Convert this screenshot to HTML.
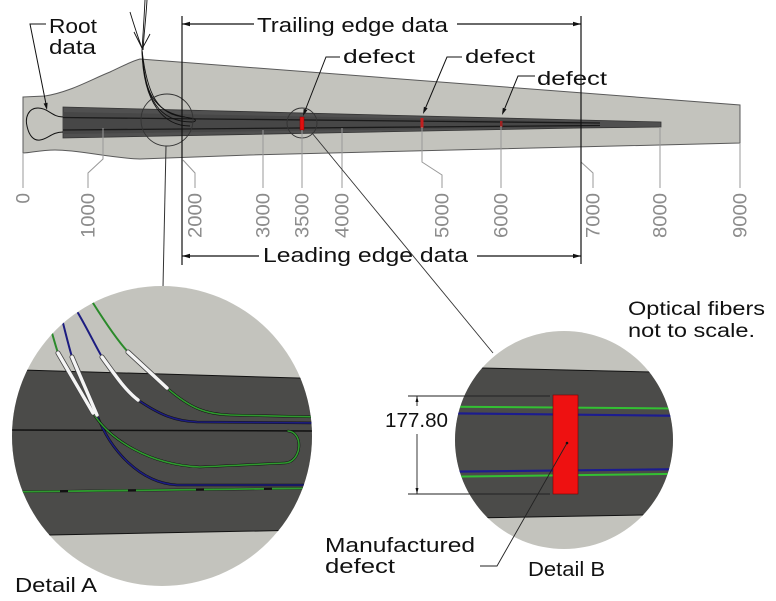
<!DOCTYPE html>
<html><head><meta charset="utf-8"><style>
html,body{margin:0;padding:0;background:#fff;}
svg{display:block;}
text{font-family:"Liberation Sans",sans-serif;}
</style></head><body>
<svg width="776" height="601" viewBox="0 0 776 601" xmlns="http://www.w3.org/2000/svg">
<defs>
<clipPath id="ca"><circle cx="162" cy="436" r="150"/></clipPath>
<clipPath id="cb"><circle cx="564" cy="440" r="109"/></clipPath>
</defs>
<rect width="776" height="601" fill="#fff"/>

<!-- Blade -->
<path d="M23,97 L45,96 C70,92 90,80 110,72 C125,65 132,61 140,59 L740,105 L740,143 L250,155 L140,159 C110,158 80,150 55,150 C40,150 30,153 23,153 Z" fill="#c3c3bd" stroke="#5a5a5a" stroke-width="1"/>
<!-- Spar -->
<path d="M63,107 L581,120 L661,122 L661,127 L581,128 L63,138 Z" fill="#505050" stroke="#333" stroke-width="0.8"/>
<path d="M63,112 L581,121.5 L581,127 L63,134 Z" fill="#474747"/>
<path d="M63,117.5 L600,123" stroke="#1a1a1a" stroke-width="1.3" fill="none"/>
<path d="M63,130 L600,125.5" stroke="#1a1a1a" stroke-width="1.3" fill="none"/>
<!-- Root bulb -->
<path d="M63,117 C52,117 48,108 38,108 C28,108 25,118 27,126 C29,136 34,141 40,140 C48,139 52,132 63,132" fill="none" stroke="#111" stroke-width="1"/>

<!-- Fiber bundle -->
<g fill="none" stroke="#111" stroke-width="0.9">
<path d="M145,0 C144,20 143,35 142,50"/>
<path d="M147,0 C146,18 144,33 143,50"/>
<path d="M130,12 C134,25 139,40 142,48"/>
<path d="M134,32 C137,38 140,44 142,48"/>
<path d="M150,34 C147,40 144,45 142,49"/>
<path d="M142,50 C145,90 150,112 190,118"/>
<path d="M142,50 C147,95 158,115 185,117"/>
<path d="M142,50 C144,100 160,122 192,122 C197,122 197,118 188,118"/>
<path d="M142,50 C143,105 165,126 190,126"/>
</g>
<circle cx="167" cy="120" r="26" fill="none" stroke="#333" stroke-width="0.9"/>
<path d="M166,146 L163,287" stroke="#333" stroke-width="1" fill="none"/>

<!-- Defects -->
<rect x="300" y="117" width="4" height="13" fill="#e01010" stroke="#8a0000" stroke-width="0.5"/>
<rect x="420.5" y="118" width="3" height="10" fill="#c02020"/>
<rect x="500" y="121" width="2.5" height="6" fill="#a02020"/>
<circle cx="302" cy="123" r="15" fill="none" stroke="#333" stroke-width="0.9"/>

<!-- Tick lines -->
<g fill="none" stroke="#999" stroke-width="1">
<path d="M23,153 L23,188"/>
<path d="M103,128 L103,159 L88,173 L88,188"/>
<path d="M183,160 L195,173 L195,188"/>
<path d="M263,130 L263,188"/>
<path d="M302,130 L302,188"/>
<path d="M342,128 L342,188"/>
<path d="M422,127 L422,162 L442,175 L442,188"/>
<path d="M501,126 L501,188"/>
<path d="M581,162 L593,173 L593,188"/>
<path d="M660,127 L660,188"/>
<path d="M740,143 L740,188"/>
</g>
<g fill="#8c8c8c" font-size="19" text-anchor="end">
<text transform="translate(29.5,193) rotate(-90)">0</text>
<text transform="translate(94.5,193) rotate(-90)" textLength="45" lengthAdjust="spacingAndGlyphs">1000</text>
<text transform="translate(201.5,193) rotate(-90)" textLength="45" lengthAdjust="spacingAndGlyphs">2000</text>
<text transform="translate(269.5,193) rotate(-90)" textLength="45" lengthAdjust="spacingAndGlyphs">3000</text>
<text transform="translate(308.5,193) rotate(-90)" textLength="45" lengthAdjust="spacingAndGlyphs">3500</text>
<text transform="translate(348.5,193) rotate(-90)" textLength="45" lengthAdjust="spacingAndGlyphs">4000</text>
<text transform="translate(448.5,193) rotate(-90)" textLength="45" lengthAdjust="spacingAndGlyphs">5000</text>
<text transform="translate(507.5,193) rotate(-90)" textLength="45" lengthAdjust="spacingAndGlyphs">6000</text>
<text transform="translate(599.5,193) rotate(-90)" textLength="45" lengthAdjust="spacingAndGlyphs">7000</text>
<text transform="translate(666.5,193) rotate(-90)" textLength="45" lengthAdjust="spacingAndGlyphs">8000</text>
<text transform="translate(746.5,193) rotate(-90)" textLength="45" lengthAdjust="spacingAndGlyphs">9000</text>
</g>

<!-- Dimension lines -->
<g stroke="#111" stroke-width="1.2" fill="none">
<path d="M182,16 L182,265"/>
<path d="M581,16 L581,264"/>
<path d="M182,24 L254,24"/>
<path d="M457,24 L581,24"/>
<path d="M182,256 L259,256"/>
<path d="M477,256 L581,256"/>
</g>
<g fill="#111">
<polygon points="182,24 190,21.8 190,26.2"/>
<polygon points="581,24 573,21.8 573,26.2"/>
<polygon points="182,256 190,253.8 190,258.2"/>
<polygon points="581,256 573,253.8 573,258.2"/>
</g>
<g fill="#111" font-size="20">
<text x="257" y="32" textLength="191" lengthAdjust="spacingAndGlyphs">Trailing edge data</text>
<text x="263" y="262" textLength="205" lengthAdjust="spacingAndGlyphs">Leading edge data</text>
</g>

<!-- Root data -->
<path d="M46,24 L30,24 L46,104" stroke="#111" stroke-width="1" fill="none"/>
<polygon points="47,110 47.6,102.7 43.6,103.5" fill="#111"/>
<g fill="#111" font-size="20">
<text x="49" y="33" textLength="48" lengthAdjust="spacingAndGlyphs">Root</text>
<text x="49" y="54" textLength="47" lengthAdjust="spacingAndGlyphs">data</text>
</g>

<!-- defect labels -->
<g stroke="#111" stroke-width="1" fill="none">
<path d="M340,57 L326,57 L305.5,109.5"/>
<path d="M462,57 L447,57 L425.7,107.5"/>
<path d="M535,76 L518,76 L504.7,108.5"/>
</g>
<g fill="#111">
<polygon points="303,116 307.4,110.2 303.7,108.8"/>
<polygon points="423,114 427.6,108.3 423.9,106.7"/>
<polygon points="502,115 506.5,109.3 502.8,107.7"/>
</g>
<g fill="#111" font-size="19">
<text x="343" y="63" textLength="72" lengthAdjust="spacingAndGlyphs">defect</text>
<text x="465" y="63" textLength="70" lengthAdjust="spacingAndGlyphs">defect</text>
<text x="537" y="85" textLength="70" lengthAdjust="spacingAndGlyphs">defect</text>
</g>

<!-- Leader to detail B -->
<path d="M312,133 L493,353" stroke="#333" stroke-width="0.9" fill="none"/>

<!-- Detail A -->
<g clip-path="url(#ca)">
<rect x="0" y="280" width="330" height="320" fill="#c3c3bd"/>
<polygon points="0,369.4 330,378.9 330,529.6 0,536" fill="#4b4b49" stroke="#111" stroke-width="1"/>
<path d="M0,430 L330,431" stroke="#111" stroke-width="1.5"/>
<path d="M0,492 L330,488" stroke="#111" stroke-width="2.4"/>
<path d="M0,492 L330,488" stroke="#2f9a2f" stroke-width="1.8" stroke-dasharray="60,8"/>
<g fill="none" stroke-width="2" stroke-linecap="round">
<!-- fiber 1 green -->
<path d="M93,303 C105,322 117,340 128,352" stroke="#2a8a2a"/>
<path d="M167,388 C190,408 205,414 230,415 L320,417" stroke="#111" stroke-width="2.6"/>
<path d="M167,388 C190,408 205,414 230,415 L320,417" stroke="#2f9a2f" stroke-width="1.6"/>
<!-- fiber 2 blue -->
<path d="M78,313 C88,330 95,345 102,357" stroke="#1c1c80"/>
<path d="M138,400 C160,415 175,421 197,422 L320,423" stroke="#111" stroke-width="2.6"/>
<path d="M138,400 C160,415 175,421 197,422 L320,423" stroke="#1c1c80" stroke-width="1.6"/>
<!-- fiber 3 blue -->
<path d="M63,323 C66,335 69,347 72,357" stroke="#1c1c80"/>
<path d="M97,415 C110,450 140,483 177,485 L320,485" stroke="#111" stroke-width="2.6"/>
<path d="M97,415 C110,450 140,483 177,485 L320,485" stroke="#1c1c80" stroke-width="1.6"/>
<!-- fiber 4 green -->
<path d="M52,333 C54,340 56,347 58,353" stroke="#2a8a2a"/>
<path d="M93,413 C110,440 150,465 200,467 L285,463 C302,462 304,432 288,431" stroke="#111" stroke-width="2.6"/>
<path d="M93,413 C110,440 150,465 200,467 L285,463 C302,462 304,432 288,431" stroke="#2f9a2f" stroke-width="1.6"/>
</g>
<!-- white sleeves -->
<g fill="none" stroke-linecap="round">
<g stroke="#444" stroke-width="5">
<path d="M128,352 L167,388"/>
<path d="M102,357 C115,375 125,390 138,400"/>
<path d="M72,357 L97,415"/>
<path d="M58,353 L93,413"/>
</g>
<g stroke="#f4f4f4" stroke-width="3.4">
<path d="M128,352 L167,388"/>
<path d="M102,357 C115,375 125,390 138,400"/>
<path d="M72,357 L97,415"/>
<path d="M58,353 L93,413"/>
</g>
</g>
</g>
<text x="15" y="592" font-size="20" fill="#111" textLength="82" lengthAdjust="spacingAndGlyphs">Detail A</text>

<!-- Detail B -->
<g clip-path="url(#cb)">
<rect x="450" y="328" width="230" height="225" fill="#c3c3bd"/>
<polygon points="450,367.3 680,372.7 680,514.3 450,518.4" fill="#4b4b49" stroke="#111" stroke-width="1"/>
<path d="M450,406.7 L680,408.5" stroke="#33c033" stroke-width="2"/>
<path d="M450,413.3 L680,415.8" stroke="#1c1c90" stroke-width="2.2"/>
<path d="M450,471.7 L680,469.2" stroke="#1c1c90" stroke-width="2.2"/>
<path d="M450,476.7 L680,473.8" stroke="#33c033" stroke-width="2"/>
</g>
<rect x="553" y="395" width="25" height="99" fill="#ee1111" stroke="#700" stroke-width="0.6"/>
<g stroke="#222" stroke-width="0.9" fill="none">
<path d="M408,396 L550,396"/>
<path d="M408,494 L550,494"/>
<path d="M417,396 L417,406"/>
<path d="M417,434 L417,494"/>
<path d="M480,566 L497,566 L567,443"/>
</g>
<g fill="#111">
<polygon points="417,396 415.5,402 418.5,402"/>
<polygon points="417,494 415.5,488 418.5,488"/>
<circle cx="567" cy="443" r="1.3"/>
</g>
<g fill="#111" font-size="20">
<text x="385" y="427" textLength="63" lengthAdjust="spacingAndGlyphs">177.80</text>
<text x="325" y="552" textLength="150" lengthAdjust="spacingAndGlyphs">Manufactured</text>
<text x="325" y="573" textLength="70" lengthAdjust="spacingAndGlyphs">defect</text>
<text x="528" y="576" textLength="77" lengthAdjust="spacingAndGlyphs">Detail B</text>
</g>
<g fill="#111" font-size="19">
<text x="628" y="315" textLength="137" lengthAdjust="spacingAndGlyphs">Optical fibers</text>
<text x="628" y="337" textLength="127" lengthAdjust="spacingAndGlyphs">not to scale.</text>
</g>
</svg>
</body></html>
